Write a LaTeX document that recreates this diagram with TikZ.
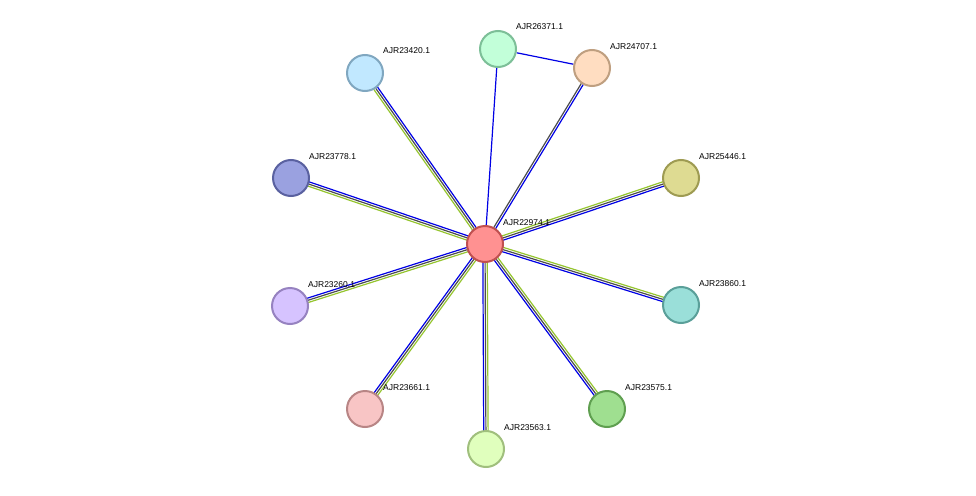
\documentclass[tikz,border=0pt]{standalone}
\usepackage{fontspec}
\setmainfont{Liberation Sans}
\usetikzlibrary{calc,backgrounds}
\begin{document}
\begin{tikzpicture}[x=1pt,y=-1pt,
  prot/.style={circle,minimum size=36pt,inner sep=0pt,line width=2pt},
  lab/.style={anchor=base west,font=\fontsize{8.5}{10}\selectfont,inner sep=0pt},
  eb/.style={draw=blue!90!black,line width=1.2pt},
  eg/.style={draw=black!70,line width=1.2pt},
  ey/.style={draw=yellow!60!green!90!black,line width=1.2pt}]
\useasboundingbox (0,0) rectangle (976,495);
\def\P#1#2#3#4#5#6{\definecolor{f#1}{HTML}{#4}\definecolor{d#1}{HTML}{#5}
  \node[prot,fill=f#1,draw=d#1] (#1) at (#2,#3) {};
  \node[lab] (l#1) at ($(#2,#3)+(18,-19)$) {#6};}
\P{c}{485}{244}{FF9191}{C05050}{AJR22974.1}
\P{a}{498}{49}{C2FFD9}{7DBF98}{AJR26371.1}
\P{b}{592}{68}{FFDDC1}{BF9F80}{AJR24707.1}
\P{d}{365}{73}{C1E8FF}{80A7C0}{AJR23420.1}
\P{e}{291}{178}{9AA1E0}{5A61A0}{AJR23778.1}
\P{f}{681}{178}{DEDB92}{9E9B52}{AJR25446.1}
\P{g}{290}{306}{D6C3FF}{9682C0}{AJR23260.1}
\P{h}{681}{305}{9ADFD9}{5A9F99}{AJR23860.1}
\P{i}{365}{409}{F8C5C5}{B88585}{AJR23661.1}
\P{j}{607}{409}{9FDF90}{5F9F50}{AJR23575.1}
\P{k}{486}{449}{E0FFBD}{A0BF7D}{AJR23563.1}
\begin{scope}[on background layer]
\def\T#1#2{\draw[ey] ($(#1)!2.2pt!90:(#2)$) -- ($(#2)!2.2pt!-90:(#1)$);
  \draw[eg] (#1) -- (#2);
  \draw[eb] ($(#1)!2.2pt!-90:(#2)$) -- ($(#2)!2.2pt!90:(#1)$);}
\foreach \n in {d,e,f,g,h,i,j,k} {\T{c}{\n}}
\draw[eg] ($(c)!1.1pt!90:(b)$) -- ($(b)!1.1pt!-90:(c)$);
\draw[eb] ($(c)!1.1pt!-90:(b)$) -- ($(b)!1.1pt!90:(c)$);
\draw[eb] (c) -- (a);
\draw[eb] (a) -- (b);
\end{scope}
\end{tikzpicture}
\end{document}
